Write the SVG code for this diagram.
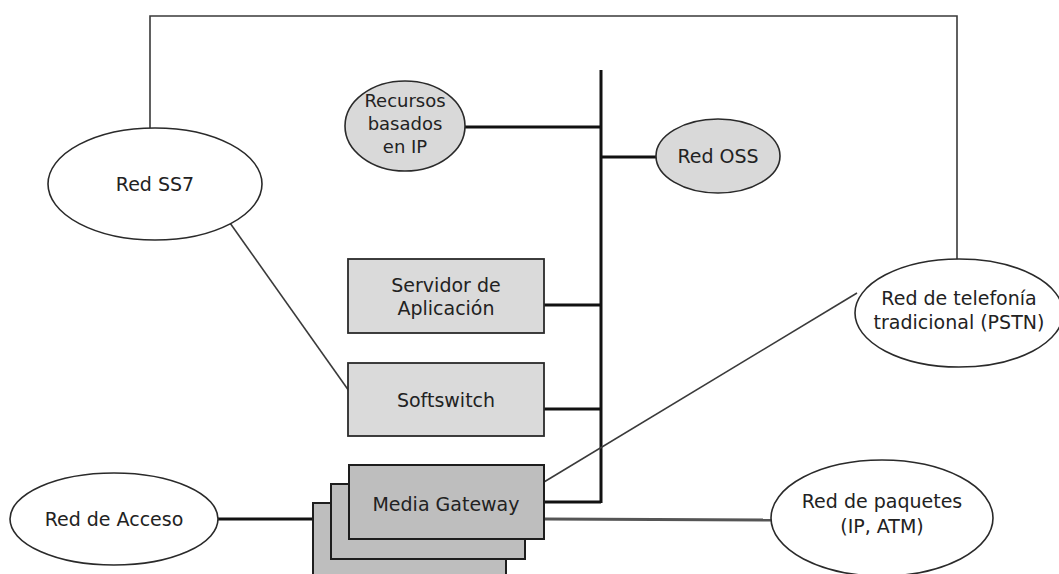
<svg xmlns="http://www.w3.org/2000/svg" width="1059" height="574" viewBox="0 0 1059 574">
  <style>
    .bg { fill: #ffffff; }
    .net { fill: #ffffff; stroke: #2a2a2a; stroke-width: 1.6; }
    .res { fill: #d9d9d9; stroke: #2a2a2a; stroke-width: 1.6; }
    .box { fill: #dadada; stroke: #2a2a2a; stroke-width: 1.8; }
    .mg { fill: #bebebe; stroke: #1e1e1e; stroke-width: 2; }
    .thin { fill: none; stroke: #3a3a3a; stroke-width: 1.6; }
    .thick { fill: none; stroke: #111111; stroke-width: 3; }
    .link { fill: none; stroke: #555555; stroke-width: 3; }
    text { font-family: "DejaVu Sans", Verdana, sans-serif; font-size: 19px; fill: #222222; text-anchor: middle; }
    .small { font-size: 18px; }
  </style>

  <rect class="bg" x="0" y="0" width="1059" height="574"/>

  <!-- connectors -->
  <g id="connectors">
    <!-- SS7 signalling loop over the top to the PSTN -->
    <polyline class="thin" points="150,128 150,16 957,16 957,265"/>
    <!-- central IP bus -->
    <line class="thick" x1="601" y1="70" x2="601" y2="503"/>
    <line class="thick" x1="465" y1="127" x2="601" y2="127"/>
    <line class="thick" x1="601" y1="157" x2="657" y2="157"/>
    <line class="thick" x1="544" y1="305" x2="601" y2="305"/>
    <line class="thick" x1="544" y1="409" x2="601" y2="409"/>
    <line class="thick" x1="544" y1="502" x2="601" y2="502"/>
    <!-- SS7 to softswitch -->
    <line class="thin" x1="230" y1="223" x2="349" y2="391"/>
    <!-- media gateway to PSTN -->
    <line class="thin" x1="544" y1="482" x2="857" y2="293"/>
    <!-- access network to media gateway -->
    <line class="thick" x1="218" y1="519" x2="313" y2="519"/>
    <!-- media gateway to packet network -->
    <line class="link" x1="545" y1="519" x2="778" y2="520"/>
  </g>

  <g id="red-ss7">
    <ellipse class="net" cx="155" cy="184" rx="107" ry="56"/>
    <text x="155" y="191">Red SS7</text>
  </g>

  <g id="recursos-ip">
    <ellipse class="res" cx="405" cy="126" rx="60" ry="45"/>
    <text class="small" x="405" y="107">Recursos</text>
    <text class="small" x="405" y="130">basados</text>
    <text class="small" x="405" y="153">en IP</text>
  </g>

  <g id="red-oss">
    <ellipse class="res" cx="718" cy="156" rx="62" ry="37"/>
    <text x="718" y="163">Red OSS</text>
  </g>

  <g id="servidor-aplicacion">
    <rect class="box" x="348" y="259" width="196" height="74"/>
    <text x="446" y="292">Servidor de</text>
    <text x="446" y="315">Aplicación</text>
  </g>

  <g id="softswitch">
    <rect class="box" x="348" y="363" width="196" height="73"/>
    <text x="446" y="407">Softswitch</text>
  </g>

  <g id="red-pstn">
    <ellipse class="net" cx="959" cy="313" rx="104" ry="54"/>
    <text x="959" y="305">Red de telefonía</text>
    <text x="959" y="329">tradicional (PSTN)</text>
  </g>

  <g id="red-acceso">
    <ellipse class="net" cx="114" cy="519" rx="104" ry="46"/>
    <text x="114" y="526">Red de Acceso</text>
  </g>

  <g id="media-gateway">
    <rect class="mg" x="313" y="503" width="193" height="80"/>
    <rect class="mg" x="331" y="484" width="194" height="75"/>
    <rect class="mg" x="349" y="465" width="195" height="74"/>
    <text x="446" y="511">Media Gateway</text>
  </g>

  <g id="red-paquetes">
    <ellipse class="net" cx="882" cy="518" rx="111" ry="58"/>
    <text x="882" y="508">Red de paquetes</text>
    <text x="882" y="533">(IP, ATM)</text>
  </g>
</svg>
